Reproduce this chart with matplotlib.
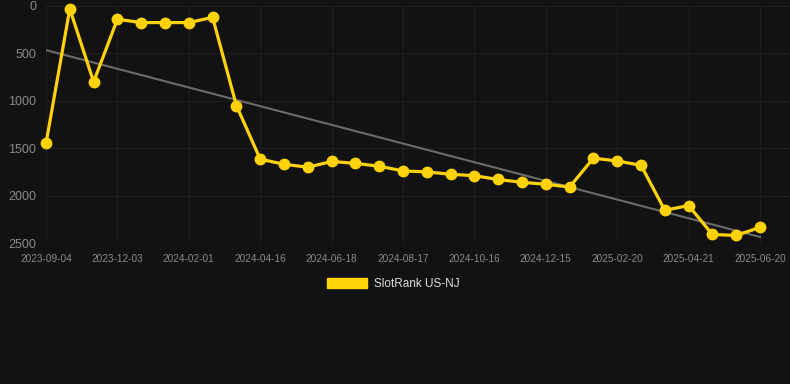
#!/usr/bin/env python3
"""SlotRank US-NJ rank history with linear trend."""

import matplotlib
matplotlib.use("Agg")
import matplotlib.pyplot as plt
from matplotlib.patches import Patch
import numpy as np

# rank per snapshot (31 equally spaced points, lower = better)
ranks = [1450, 30, 800, 140, 175, 175, 175, 120, 1050, 1615,
         1670, 1700, 1640, 1660, 1690, 1740, 1750, 1775, 1790, 1830,
         1860, 1880, 1910, 1605, 1635, 1680, 2155, 2105, 2410, 2420,
         2335]
tick_labels = ["2023-09-04", "2023-12-03", "2024-02-01", "2024-04-16",
               "2024-06-18", "2024-08-17", "2024-10-16", "2024-12-15",
               "2025-02-20", "2025-04-21", "2025-06-20"]
series_name = "SlotRank US-NJ"

BG = "#121212"
YELLOW = "#FFD20A"
GRID = "#1f1f1f"
TICK = "#8a8a8a"

plt.rcParams["font.family"] = ["Liberation Sans", "DejaVu Sans"]

x = np.arange(len(ranks))
slope, icpt = np.polyfit(x, ranks, 1)

fig = plt.figure(figsize=(7.9, 3.84), dpi=100, facecolor=BG)
ax = fig.add_axes([46 / 790, 1 - 243 / 384, 1 - 46 / 790, (243 - 6) / 384])
ax.set_facecolor(BG)

ax.plot(x, slope * x + icpt, color="#6b6b6b", linewidth=1.5, zorder=2)
ax.plot(x, ranks, color=YELLOW, linewidth=2.3, marker="o", markersize=7.5,
        clip_on=False, zorder=3)

ax.set_xlim(0, (790 - 46) / 23.8)
ax.set_ylim(2500, 0)
ax.set_yticks([0, 500, 1000, 1500, 2000, 2500])
ax.set_xticks(x[::3])
ax.set_xticklabels(tick_labels)
ax.tick_params(axis="x", colors=TICK, labelsize=7.2, length=0, pad=8)
ax.tick_params(axis="y", colors=TICK, labelsize=9, length=0, pad=7)
ax.grid(True, color=GRID, linewidth=0.8)
ax.set_axisbelow(True)
for s in ax.spines.values():
    s.set_visible(False)

fig.legend(handles=[Patch(facecolor=YELLOW, edgecolor=YELLOW, label=series_name)],
           loc="center", bbox_to_anchor=(393 / 790, 1 - 284 / 384),
           frameon=False, fontsize=8.5, labelcolor="#dddddd",
           handlelength=3.4, handleheight=1.0, handletextpad=0.6)

fig.savefig("out.png", dpi=100, facecolor=BG)
